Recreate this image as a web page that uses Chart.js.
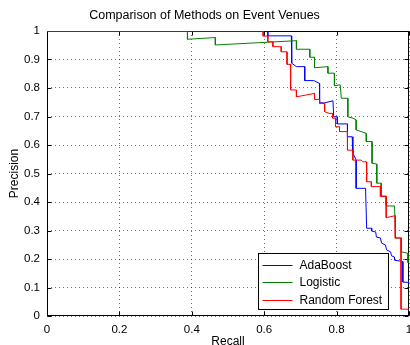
<!DOCTYPE html>
<html>
<head>
<meta charset="utf-8">
<script src="https://cdn.jsdelivr.net/npm/chart.js@4.4.1/dist/chart.umd.min.js"></script>
<style>
  html, body { margin: 0; padding: 0; background: #fff; }
  #wrap { width: 410px; height: 345px; }
</style>
</head>
<body>
<div id="wrap"><canvas id="prChart" width="410" height="345"></canvas></div>
<script>
var chartTitle = 'Comparison of Methods on Event Venues';
var seriesNames = ['AdaBoost', 'Logistic', 'Random Forest'];

var recallAda = [0, 0.610, 0.610, 0.675, 0.676, 0.689, 0.712, 0.712, 0.737, 0.753, 0.753, 0.767, 0.790, 0.792, 0.802, 0.802, 0.830, 0.830, 0.843, 0.845, 0.854, 0.854, 0.880, 0.883, 0.897, 0.897, 0.908, 0.910, 0.921, 0.924, 0.935, 0.938, 0.949, 0.952, 0.960, 0.960, 0.983, 0.983, 1.0];
var precisionAda = [1, 1, 0.983, 0.983, 0.887, 0.875, 0.875, 0.826, 0.826, 0.816, 0.748, 0.748, 0.755, 0.699, 0.699, 0.674, 0.674, 0.629, 0.629, 0.572, 0.547, 0.448, 0.448, 0.308, 0.308, 0.298, 0.295, 0.277, 0.274, 0.256, 0.249, 0.232, 0.225, 0.211, 0.207, 0.196, 0.191, 0.119, 0.118];

var recallLog = [0, 0.388, 0.388, 0.465, 0.465, 0.689, 0.689, 0.726, 0.726, 0.739, 0.739, 0.776, 0.776, 0.794, 0.794, 0.810, 0.813, 0.831, 0.831, 0.845, 0.854, 0.854, 0.868, 0.882, 0.882, 0.898, 0.898, 0.911, 0.911, 0.923, 0.923, 0.937, 0.937, 0.960, 0.963, 0.979, 0.979, 0.997, 0.997, 1.0];
var precisionLog = [1, 1, 0.971, 0.977, 0.951, 0.966, 0.936, 0.936, 0.908, 0.908, 0.871, 0.875, 0.852, 0.852, 0.808, 0.811, 0.764, 0.764, 0.699, 0.694, 0.688, 0.653, 0.647, 0.641, 0.612, 0.612, 0.536, 0.533, 0.466, 0.466, 0.421, 0.421, 0.386, 0.386, 0.274, 0.274, 0.225, 0.220, 0.187, 0.187];

var recallRF = [0, 0.597, 0.597, 0.610, 0.610, 0.624, 0.624, 0.647, 0.647, 0.663, 0.663, 0.673, 0.673, 0.689, 0.689, 0.739, 0.739, 0.753, 0.753, 0.767, 0.767, 0.779, 0.789, 0.789, 0.797, 0.797, 0.808, 0.808, 0.830, 0.830, 0.845, 0.845, 0.868, 0.872, 0.883, 0.883, 0.896, 0.896, 0.921, 0.921, 0.937, 0.937, 0.962, 0.962, 0.978, 0.978, 1.0];
var precisionRF = [1, 1, 0.982, 0.982, 0.962, 0.962, 0.945, 0.945, 0.927, 0.927, 0.883, 0.883, 0.793, 0.793, 0.769, 0.781, 0.760, 0.760, 0.746, 0.746, 0.717, 0.711, 0.711, 0.694, 0.694, 0.664, 0.664, 0.647, 0.647, 0.582, 0.582, 0.547, 0.547, 0.541, 0.541, 0.471, 0.471, 0.454, 0.454, 0.419, 0.419, 0.345, 0.352, 0.273, 0.273, 0.024, 0.024];

function toPoints(xs, ys) {
    return xs.map(function (x, i) { return { x: x, y: ys[i] }; });
}

// matlab prints 1 and 0 without the trailing .0
function shortTick(value) {
    return String(Number(value.toFixed(1)));
}

var fontFamily = '"Liberation Sans", Arial, Helvetica, sans-serif';

// box, inward ticks (matlab style) and a legend inside the axes
var matlabFrame = {
    id: 'matlabFrame',
    beforeDatasetsDraw: function (chart) {
        var ctx = chart.ctx, a = chart.chartArea;
        var xs = chart.scales.x, ys = chart.scales.y;
        var L = Math.round(a.left) + 0.5, R = Math.round(a.right) - 0.5;
        var T = Math.round(a.top) + 0.5, B = Math.round(a.bottom) - 0.5;
        ctx.save();
        ctx.strokeStyle = '#000';
        ctx.lineWidth = 1;
        ctx.beginPath();
        xs.ticks.forEach(function (t) {
            var px = Math.round(xs.getPixelForValue(t.value)) + 0.5;
            ctx.moveTo(px, B); ctx.lineTo(px, B - 4);
            ctx.moveTo(px, T); ctx.lineTo(px, T + 4);
        });
        ys.ticks.forEach(function (t) {
            var py = Math.round(ys.getPixelForValue(t.value)) + 0.5;
            ctx.moveTo(L, py); ctx.lineTo(L + 4, py);
            ctx.moveTo(R, py); ctx.lineTo(R - 4, py);
        });
        ctx.stroke();
        ctx.strokeRect(L, T, R - L, B - T);
        ctx.restore();
    },
    afterDraw: function (chart) {
        var ctx = chart.ctx;
        var bx = 258.5, by = 253.5, bw = 130, bh = 56;
        ctx.save();
        ctx.fillStyle = '#fff';
        ctx.fillRect(bx, by, bw, bh);
        ctx.strokeStyle = '#000';
        ctx.lineWidth = 1;
        ctx.strokeRect(bx, by, bw, bh);
        ctx.font = '12px ' + fontFamily;
        ctx.textBaseline = 'middle';
        ctx.textAlign = 'left';
        chart.data.datasets.forEach(function (ds, i) {
            var y = Math.round(by + 11 + i * 17.5) + 0.5;
            ctx.strokeStyle = ds.borderColor;
            ctx.beginPath();
            ctx.moveTo(bx + 4, y);
            ctx.lineTo(bx + 34, y);
            ctx.stroke();
            ctx.fillStyle = '#000';
            ctx.fillText(ds.label, bx + 41, y);
        });
        ctx.restore();
    }
};

var ctx = document.getElementById('prChart').getContext('2d');
var prChart = new Chart(ctx, {
    type: 'scatter',
    data: {
        datasets: [{
            label: seriesNames[0],
            data: toPoints(recallAda, precisionAda),
            borderColor: '#0000ff',
            order: 2
        }, {
            label: seriesNames[1],
            data: toPoints(recallLog, precisionLog),
            borderColor: '#008000',
            order: 1
        }, {
            label: seriesNames[2],
            data: toPoints(recallRF, precisionRF),
            borderColor: '#ff0000',
            order: 0
        }]
    },
    options: {
        responsive: false,
        animation: false,
        showLine: true,
        layout: { padding: { left: 0, right: 1, top: 0, bottom: 0 } },
        elements: {
            point: { radius: 0, hoverRadius: 0 },
            line: { borderWidth: 1, tension: 0, fill: false }
        },
        plugins: {
            legend: { display: false },
            tooltip: { enabled: false },
            title: {
                display: true,
                text: chartTitle,
                color: '#000',
                font: { family: fontFamily, size: 12.5, weight: 'normal', lineHeight: 1.2 },
                padding: { top: 8, bottom: 8 }
            }
        },
        scales: {
            x: {
                type: 'linear',
                min: 0,
                max: 1,
                ticks: {
                    stepSize: 0.2,
                    color: '#000',
                    padding: 7,
                    maxRotation: 0,
                    font: { family: fontFamily, size: 11.5 },
                    callback: shortTick
                },
                grid: { color: 'rgba(0,0,0,0.55)', drawTicks: false, lineWidth: 1 },
                border: { display: false, dash: [1, 3] },
                title: {
                    display: true,
                    text: 'Recall',
                    color: '#000',
                    font: { family: fontFamily, size: 12, lineHeight: 1 },
                    padding: { top: 0, bottom: -2.5 }
                },
                afterFit: function (scale) {
                    scale.height = 29;
                    scale.paddingLeft = 0;
                    scale.paddingRight = 0;
                }
            },
            y: {
                type: 'linear',
                min: 0,
                max: 1,
                ticks: {
                    stepSize: 0.1,
                    color: '#000',
                    padding: 7,
                    font: { family: fontFamily, size: 11.5 },
                    callback: shortTick
                },
                grid: { color: 'rgba(0,0,0,0.55)', drawTicks: false, lineWidth: 1 },
                border: { display: false, dash: [1, 3] },
                title: {
                    display: true,
                    text: 'Precision',
                    color: '#000',
                    font: { family: fontFamily, size: 12, lineHeight: 1.2 },
                    padding: { top: 7, bottom: 0 }
                },
                afterFit: function (scale) {
                    scale.width = 47;
                    scale.paddingTop = 0;
                    scale.paddingBottom = 0;
                }
            }
        }
    },
    plugins: [matlabFrame]
});
</script>
</body>
</html>
